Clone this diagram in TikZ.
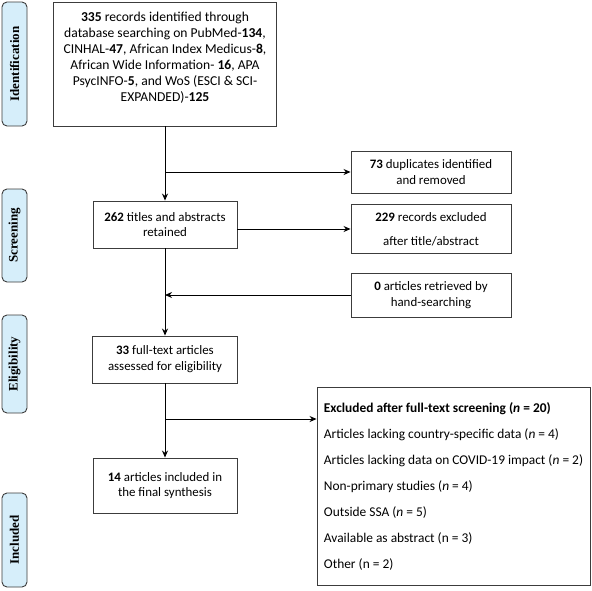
\documentclass[tikz,border=0pt]{standalone}
\usepackage{fontspec}
\setmainfont{Carlito}
\newfontfamily\sidefont{Liberation Serif}
\usetikzlibrary{arrows.meta}

\definecolor{sideblue}{RGB}{214,238,250}
\definecolor{boxline}{RGB}{60,60,60}

\tikzset{
  box/.style={draw=boxline, line width=0.9pt, align=center, inner sep=2pt,
    font=\fontsize{12.9}{15.8}\selectfont},
  sidebox/.style={draw=boxline, fill=sideblue, line width=0.9pt, rounded corners=5pt,
    rotate=90, minimum height=25pt, inner sep=0pt,
    font=\sidefont\bfseries\fontsize{13}{15}\selectfont},
  arr/.style={line width=0.9pt, -{Stealth[length=7pt,width=6pt]}},
  link/.style={line width=0.9pt}
}

\begin{document}
\begin{tikzpicture}[x=1pt,y=1pt,yscale=-1,xscale=1]
\useasboundingbox (0,0) rectangle (592,590);

% side labels
\node[sidebox, minimum width=124pt] (sidid) at (14.5,64) {Identification};
\node[sidebox, minimum width=93pt] (sidscr) at (14.5,235.5) {Screening};
\node[sidebox, minimum width=98pt] (sidelig) at (14.5,364) {Eligibility};
\node[sidebox, minimum width=94pt] (sidincl) at (14.5,540) {Included};

% main column
\node[box, minimum width=223pt, minimum height=124pt] (ident) at (165,64) {};
\node[align=center, inner sep=0pt, font=\fontsize{13.6}{16}\selectfont] (identtxt) at (165,58)
  {\textbf{335} records identified through\\
   database searching on PubMed-\textbf{134},\\
   CINHAL-\textbf{47}, African Index Medicus-\textbf{8},\\
   African Wide Information- \textbf{16}, APA\\
   PsycINFO-\textbf{5}, and WoS (ESCI \& SCI-\\
   EXPANDED)-\textbf{125}};
\node[box, minimum width=144pt, minimum height=47pt] (screen) at (165,224.5)
  {\textbf{262} titles and abstracts\\retained};
\node[box, minimum width=145pt, minimum height=47pt] (elig) at (165,359.5)
  {\textbf{33} full-text articles\\assessed for eligibility};
\node[box, minimum width=144pt, minimum height=55pt] (incl) at (165,485.5)
  {\textbf{14} articles included in\\the final synthesis};

% right column
\node[box, minimum width=160pt, minimum height=42pt] (dupl) at (431,172)
  {\textbf{73} duplicates identified\\and removed};
\node[box, minimum width=160pt, minimum height=49pt] (titex) at (431,229)
  {\textbf{229} records excluded\\[8pt]after title/abstract};
\node[box, minimum width=160pt, minimum height=44pt] (hand) at (431,295)
  {\textbf{0} articles retrieved by\\hand-searching};
\node[box, align=left, minimum width=273pt, minimum height=198pt,
  font=\fontsize{13.4}{16}\selectfont] (fullex) at (453.5,486)
  {\textbf{Excluded after full-text screening (\textit{n} = 20)}\\[10pt]
   Articles lacking country-specific data (\textit{n} = 4)\\[10pt]
   Articles lacking data on COVID-19 impact (\textit{n} = 2)\\[10pt]
   Non-primary studies (\textit{n} = 4)\\[10pt]
   Outside SSA (\textit{n} = 5)\\[10pt]
   Available as abstract (n = 3)\\[10pt]
   Other (n = 2)};

% branch points
\coordinate (br1) at (165,172);
\coordinate (br2) at (165,419);

% connectors
\draw[arr] (ident.south) -- (screen.north);
\draw[arr] (br1) -- (dupl.west);
\draw[arr] (screen.east |- titex.west) -- (titex.west);
\draw[arr] (screen.south) -- (elig.north);
\draw[arr] (hand.west) -- (hand.west -| screen.south);
\draw[arr] (elig.south) -- (incl.north);
\draw[arr] (br2) -- (br2 -| fullex.west);

\end{tikzpicture}
\end{document}
